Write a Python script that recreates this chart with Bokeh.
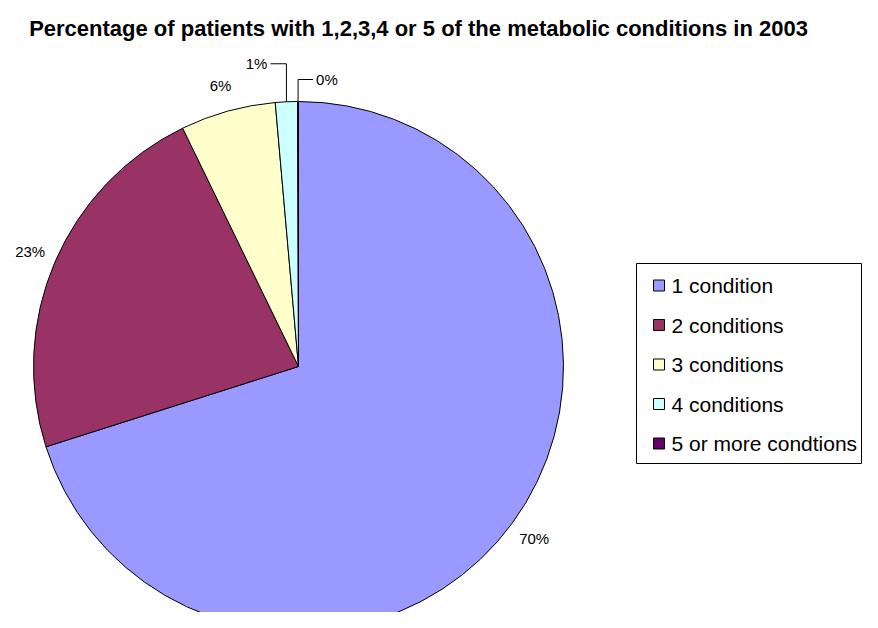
import math
from bokeh.plotting import figure
from bokeh.models import ColumnDataSource, Label
from bokeh.core.properties import value
from bokeh.embed import file_html
from bokeh.resources import INLINE

# ---- data ----
title_text = "Percentage of patients with 1,2,3,4 or 5 of the metabolic conditions in 2003"
categories = ["1 condition", "2 conditions", "3 conditions", "4 conditions", "5 or more condtions"]
percentages = [70.1, 22.7, 5.8, 1.35, 0.05]
colors = ["#9999FF", "#993366", "#FFFFCC", "#CCFFFF", "#660066"]

# ---- layout ----
W, H = 862, 612
FONT = value("Liberation Sans")


def px(x):
    return x


def py(y):
    return H - y


cx, cy, R = px(298), py(366), 265
label_r = 292

p = figure(width=W, height=H, x_range=(0, W), y_range=(0, H), min_border=0,
           toolbar_location=None, output_backend="svg")
p.axis.visible = False
p.grid.visible = False
p.outline_line_color = None
p.background_fill_color = "white"

total = sum(percentages)
starts, ends, mids = [], [], []
cum = 0.0
for v in percentages:
    f0 = cum / total
    cum += v
    f1 = cum / total
    starts.append(math.pi / 2 - 2 * math.pi * f1)
    ends.append(math.pi / 2 - 2 * math.pi * f0)
    mids.append(2 * math.pi * (f0 + f1) / 2)

src = ColumnDataSource(dict(cat=categories, val=percentages, color=colors,
                            start=starts, end=ends))
p.wedge(x=cx, y=cy, radius=R, start_angle="start", end_angle="end",
        direction="anticlock", fill_color="color", line_color="black",
        line_width=1, source=src)

# ---- percentage labels ----
big_x, big_y, big_t = [], [], []
small_leaders = [(-16, 38), (15, 22)]  # (run, rise) for thin slices
sm = 0
for v, th in zip(percentages, mids):
    txt = f"{round(v)}%"
    if v / total >= 0.03:
        big_x.append(cx + label_r * math.sin(th))
        big_y.append(cy + label_r * math.cos(th))
        big_t.append(txt)
    else:
        run, rise = small_leaders[sm]
        sm += 1
        ex = cx + R * math.sin(th)
        ey = cy + R * math.cos(th)
        p.line([ex, ex, ex + run], [ey, ey + rise, ey + rise],
               line_color="#000000", line_width=1)
        align = "right" if run < 0 else "left"
        p.text(x=[ex + run + (-3 if run < 0 else 3)], y=[ey + rise], text=[txt],
               text_font=FONT, text_font_size="15px", text_color="#000000",
               text_align=align, text_baseline="middle")

p.text(x=big_x, y=big_y, text=big_t, text_font=FONT, text_font_size="15px",
       text_color="#000000", text_align="center", text_baseline="middle")

# ---- legend ----
p.quad(left=[px(636)], right=[W - 1], top=[py(263)], bottom=[py(463)],
       fill_color="white", line_color="black", line_width=1)
row_y = [py(285 + 39.5 * i) for i in range(len(categories))]
leg = ColumnDataSource(dict(y=row_y, cat=categories, color=colors))
p.rect(x=px(658.5), y="y", width=11, height=11, fill_color="color",
       line_color="black", line_width=1, source=leg)
p.text(x=px(671), y="y", text="cat", text_font=FONT, text_font_size="21px",
       text_color="#000000", text_align="left", text_baseline="middle", source=leg)

# ---- title ----
p.add_layout(Label(x=px(418), y=py(28), text=title_text, text_font="Liberation Sans",
                   text_font_size="22px", text_font_style="bold", text_color="#000000",
                   text_align="center", text_baseline="alphabetic"))

open("out.html", "w").write(file_html(p, INLINE))
